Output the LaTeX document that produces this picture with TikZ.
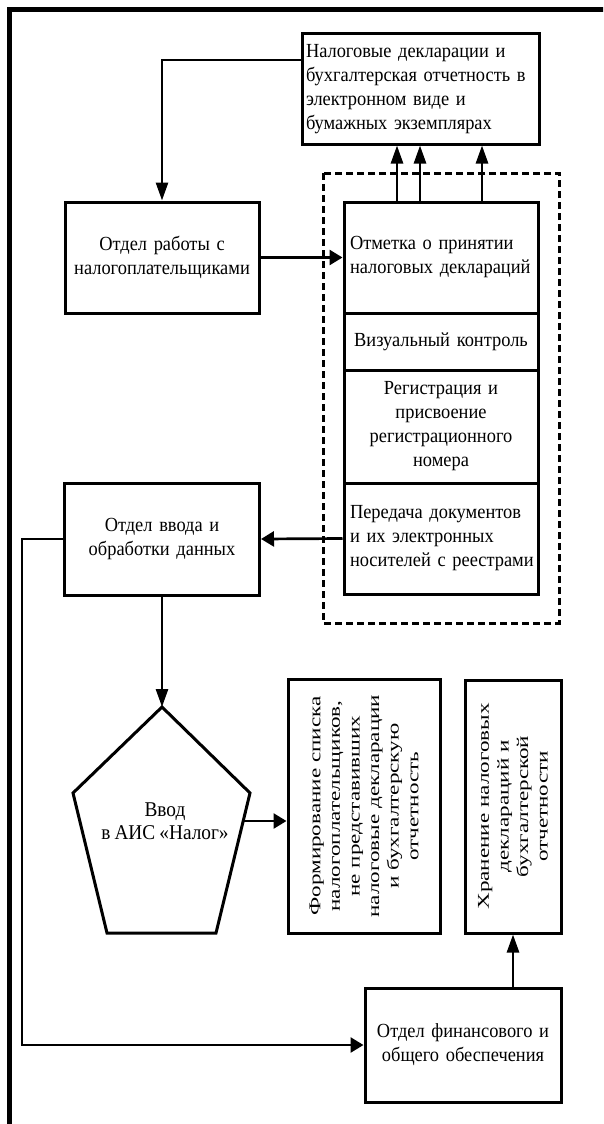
\documentclass[tikz,border=0pt]{standalone}
\usepackage{fontspec}
\usetikzlibrary{arrows.meta}
\newfontfamily\hfont[FakeStretch=0.92, WordSpace=0.85]{Liberation Serif}
\newfontfamily\vfont[FakeStretch=1.4]{Liberation Serif}
\begin{document}
\begin{tikzpicture}[x=1pt, y=-1pt,
  box/.style={draw, line width=3pt, inner xsep=6pt, inner ysep=0pt,
    font=\hfont\fontsize{20}{24}\selectfont},
  lbox/.style={box, inner xsep=4pt, align=left},
  rbox/.style={draw, line width=3pt, inner sep=0pt, rotate=90, align=center,
    font=\vfont\fontsize{16.5}{19.6}\selectfont},
  conn/.style={line width=2.7pt},
  varr/.style={conn, -{Triangle[length=18pt, width=12pt]}},
  harr/.style={conn, -{Triangle[length=13pt, width=15pt]}},
  dashbox/.style={line width=3pt, dash pattern=on 7pt off 4pt}
]
\useasboundingbox (0,0) rectangle (603,1124);
\clip (0,0) rectangle (603,1124);

% outer frame (left and top edges)
\draw[line width=4.5pt] (9.5,1140) -- (9.5,9.5) -- (620,9.5);

% dashed group around the reception steps
\draw[dashbox] (323,173) rectangle (559,623);

% boxes
\node[lbox, minimum width=237pt, minimum height=110pt, text width=229pt]
  (decl) at (420.5,89) {Налоговые декларации и\\бухгалтерская отчетность в\\электронном виде и\\бумажных экземплярах};
\node[box, minimum width=194pt, minimum height=111pt, text width=182pt, align=center]
  (otdrab) at (162,257.5) {Отдел работы с\\налогоплательщиками};
\node[lbox, minimum width=194pt, minimum height=111pt, text width=186pt]
  (mark) at (441,257.5) {\hspace*{2pt}Отметка о принятии\\\hspace*{2pt}налоговых деклараций};
\node[box, minimum width=194pt, minimum height=57pt, text width=182pt, align=center]
  (vis) at (441,341.5) {Визуальный контроль};
\node[box, minimum width=194pt, minimum height=113pt, text width=182pt, align=center]
  (reg) at (441,426.5) {Регистрация и\\присвоение\\регистрационного\\номера};
\node[lbox, minimum width=194pt, minimum height=111pt, text width=186pt]
  (pered) at (441,538.5) {\hspace*{2pt}Передача документов\\\hspace*{2pt}и их электронных\\\hspace*{2pt}носителей с реестрами};
\node[box, minimum width=195pt, minimum height=112pt, text width=183pt, align=center]
  (vvod) at (162,539) {Отдел ввода и\\обработки данных};
\node[rbox, minimum width=254pt, minimum height=152pt]
  (form) at (364,806) {Формирование списка\\налогоплательщиков,\\не представивших\\налоговые декларации\\и бухгалтерскую\\отчетность};
\node[rbox, minimum width=253pt, minimum height=96pt]
  (hran) at (513,806.5) {Хранение налоговых\\деклараций и\\бухгалтерской\\отчетности};
\node[box, minimum width=196pt, minimum height=114pt, text width=184pt, align=center]
  (fin) at (463,1045) {Отдел финансового и\\общего обеспечения};

% input pentagon
\coordinate (pT) at (162,707);
\coordinate (pUL) at (73,793);
\coordinate (pLL) at (107,933);
\coordinate (pLR) at (216,933);
\coordinate (pUR) at (250,793);
\draw[line width=3pt, line join=miter] (pT) -- (pUR) -- (pLR) -- (pLL) -- (pUL) -- cycle;
\node[font=\hfont\fontsize{21}{23}\selectfont, align=center, inner sep=0pt]
  (ais) at (165,821.5) {Ввод\\в АИС «Налог»};
\coordinate (pR) at (243.2,821);

% connectors
\draw[varr] ([yshift=29pt]decl.west) -| (otdrab.north);
\draw[harr] (otdrab.east) -- (mark.west);
\draw[varr] ([xshift=-44pt]mark.north) -- ([xshift=-44pt]mark.north |- decl.south);
\draw[varr] ([xshift=-21pt]mark.north) -- ([xshift=-21pt]mark.north |- decl.south);
\draw[varr] ([xshift=41pt]mark.north) -- ([xshift=41pt]mark.north |- decl.south);
\draw[harr] (pered.west) -- (vvod.east);
\draw[varr] (vvod.south) -- (pT);
\draw[harr] (pR) -- (pR -| form.north);
\coordinate (rail) at (22,539);
\draw[harr] (vvod.west) -- (rail) |- (fin.west);
\draw[varr] (fin.north -| hran.west) -- (hran.west);
\end{tikzpicture}
\end{document}
